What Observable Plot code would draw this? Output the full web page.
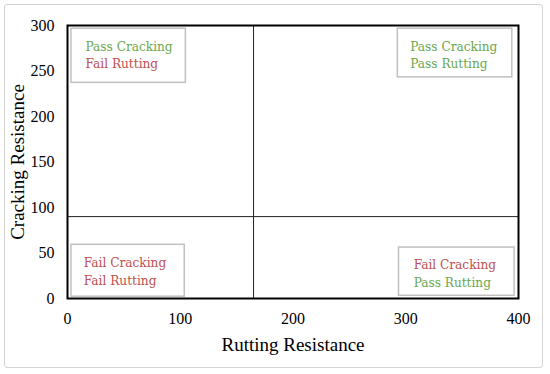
<!DOCTYPE html>
<html>
<head>
<meta charset="utf-8">
<script src="https://cdn.jsdelivr.net/npm/d3@7"></script>
<script src="https://cdn.jsdelivr.net/npm/@observablehq/plot@0.6"></script>
<style>
  html, body { margin: 0; padding: 0; background: #fff; }
  #wrap { position: relative; width: 550px; height: 374px; }
  #border { position: absolute; left: 4px; top: 4px; width: 537px; height: 362px;
            border: 1.5px solid #d4d4d4; border-radius: 3px; pointer-events: none; }
</style>
</head>
<body>
<div id="wrap"><div id="border"></div></div>
<script>
// Axis ticks
const xTicks = [0, 100, 200, 300, 400];
const yTicks = [0, 50, 100, 150, 200, 250, 300];
const xLabel = "Rutting Resistance";
const yLabel = "Cracking Resistance";

// Threshold lines
const rutThreshold = [165];
const crackThreshold = [90];

// Quadrant boxes (data coordinates)
const boxX1 = [3.5, 293, 3.5, 294];
const boxX2 = [105, 394.5, 104, 396.5];
const boxY1 = [237, 243, 2, 3];
const boxY2 = [296.5, 296.5, 59, 56];

// Quadrant label lines
const labelText = ["Pass Cracking", "Fail Rutting", "Pass Cracking", "Pass Rutting",
                   "Fail Cracking", "Fail Rutting", "Fail Cracking", "Pass Rutting"];
const labelX = [16, 16, 304, 304, 14.5, 14.5, 307, 307];
const labelY = [277, 258, 277, 258, 39.5, 20, 37, 17.5];
const labelPass = [true, false, true, true, false, false, false, true];

const boxes = boxX1.map((d, i) => ({x1: d, x2: boxX2[i], y1: boxY1[i], y2: boxY2[i]}));
const labels = labelText.map((t, i) => ({text: t, x: labelX[i], y: labelY[i], pass: labelPass[i]}));

const green = "#6aa84f";
const red = "#c0504d";

const chart = Plot.plot({
  width: 550,
  height: 374,
  marginLeft: 67,
  marginRight: 32,
  marginTop: 25,
  marginBottom: 76,
  style: {fontFamily: "'Liberation Serif', 'Times New Roman', serif", background: "transparent"},
  x: {domain: [0, 400]},
  y: {domain: [0, 300]},
  marks: [
    Plot.axisX({ticks: xTicks, tickSize: 0, tickPadding: 14, fontSize: 16, label: xLabel,
                labelAnchor: "center", labelArrow: "none", labelOffset: 52}),
    Plot.axisY({ticks: yTicks, tickSize: 0, tickPadding: 13, fontSize: 16, label: yLabel,
                labelAnchor: "center", labelArrow: "none", labelOffset: 57}),
    Plot.ruleX(rutThreshold, {stroke: "#222", strokeWidth: 1}),
    Plot.ruleY(crackThreshold, {stroke: "#222", strokeWidth: 1}),
    Plot.rect(boxes, {x1: "x1", x2: "x2", y1: "y1", y2: "y2", fill: "white", stroke: "#c0c0c0", strokeWidth: 1.5}),
    Plot.text(labels, {x: "x", y: "y", text: "text", textAnchor: "start", fontSize: 13.5,
                       fontFamily: "'DejaVu Serif Condensed', 'DejaVu Serif', serif",
                       fill: d => d.pass ? green : red}),
    Plot.frame({stroke: "black", strokeWidth: 2})
  ]
});
chart.querySelectorAll("text").forEach(t => {
  if (t.textContent === xLabel || t.textContent === yLabel) {
    t.setAttribute("font-size", "19");
    t.style.fontSize = "19px";
  }
});
document.getElementById("wrap").prepend(chart);
</script>
</body>
</html>
